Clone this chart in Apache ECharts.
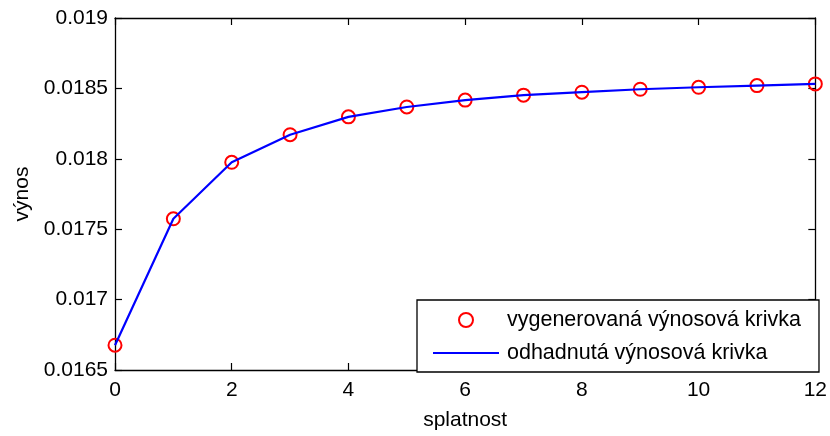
<!DOCTYPE html>
<html>
<head>
<meta charset="utf-8">
<script src="https://cdn.jsdelivr.net/npm/echarts@6/dist/echarts.min.js"></script>
<style>html,body{margin:0;padding:0;background:#fff}#c{width:830px;height:436px}</style>
</head>
<body>
<div id="c"></div>
<script>
var maturities = [0,1,2,3,4,5,6,7,8,9,10,11,12];
var generated = [0.016676,0.017574,0.017975,0.018171,0.018298,0.018368,0.018417,0.018452,0.018473,0.018494,0.018508,0.018520,0.018532];
var estimated = [0.016676,0.017574,0.017975,0.018171,0.018298,0.018368,0.018417,0.018452,0.018473,0.018494,0.018508,0.018520,0.018532];
var seriesNames = ['vygenerovaná výnosová krivka','odhadnutá výnosová krivka'];
var xTitle = 'splatnost', yTitle = 'výnos';

var FONT = 'Liberation Sans, Arial, sans-serif';
var chart = echarts.init(document.getElementById('c'), null, {renderer:'canvas'});
var axisLine = {show:true, onZero:false, lineStyle:{color:'#000', width:1.3}};
var tick = {show:true, inside:true, length:7, lineStyle:{color:'#000', width:1.2}};
function fmt(v){ return String(parseFloat(v.toFixed(4))); }
chart.setOption({
  animation:false,
  grid:{left:115, right:12, top:18, bottom:62, containLabel:false},
  xAxis:[
    {type:'value', min:0, max:12, interval:2, position:'bottom',
     axisLine:axisLine, axisTick:tick, splitLine:{show:false},
     axisLabel:{color:'#000', fontSize:21, fontFamily:FONT, margin:10},
     name:xTitle, nameLocation:'middle', nameGap:40,
     nameTextStyle:{color:'#000', fontSize:21, fontFamily:FONT}},
    {type:'value', min:0, max:12, interval:2, position:'top',
     axisLine:axisLine, axisTick:tick, splitLine:{show:false}, axisLabel:{show:false}}
  ],
  yAxis:[
    {type:'value', min:0.0165, max:0.019, interval:0.0005, position:'left',
     axisLine:axisLine, axisTick:tick, splitLine:{show:false},
     axisLabel:{color:'#000', fontSize:21, fontFamily:FONT, margin:7, formatter:fmt},
     name:yTitle, nameLocation:'middle', nameGap:82,
     nameTextStyle:{color:'#000', fontSize:21, fontFamily:FONT}},
    {type:'value', min:0.0165, max:0.019, interval:0.0005, position:'right',
     axisLine:axisLine, axisTick:tick, splitLine:{show:false}, axisLabel:{show:false}}
  ],
  legend:{
    left:417, top:300, orient:'vertical',
    backgroundColor:'#fff', borderColor:'#000', borderWidth:1.3, borderRadius:0,
    padding:[9,18,8,15], itemGap:11, itemWidth:66, itemHeight:14,
    textStyle:{color:'#000', fontSize:21.5, fontFamily:FONT, lineHeight:20, padding:[0,0,0,3]},
    data:[
      {name:seriesNames[0]},
      {name:seriesNames[1], itemStyle:{opacity:0}}
    ]
  },
  series:[
    {name:seriesNames[0], type:'scatter', data:maturities.map(function(m,i){return [m, generated[i]];}),
     symbol:'circle', symbolSize:13,
     itemStyle:{color:'rgba(255,255,255,0)', borderColor:'#ff0000', borderWidth:2, opacity:1}, z:2},
    {name:seriesNames[1], type:'line', data:maturities.map(function(m,i){return [m, estimated[i]];}),
     symbol:'none', lineStyle:{color:'#0000ff', width:2.2}, itemStyle:{color:'#0000ff'}, z:3}
  ]
});
</script>
</body>
</html>
